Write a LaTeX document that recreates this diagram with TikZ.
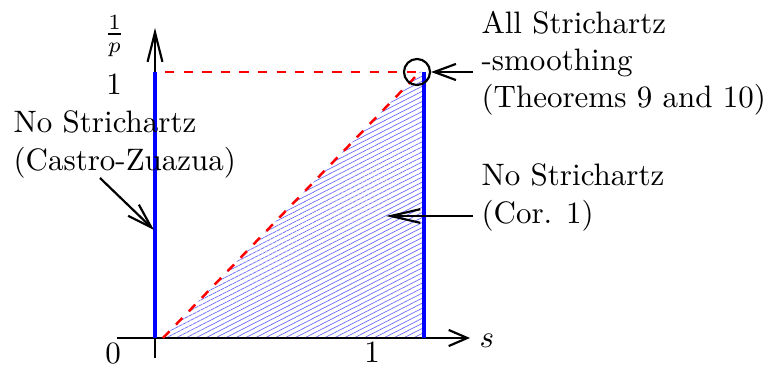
\documentclass[tikz,border=0pt]{standalone}
\usetikzlibrary{arrows.meta,patterns.meta}
\begin{document}
\begin{tikzpicture}[x=0.3226pt,y=-0.3226pt,
  axis/.style={line width=0.7pt},
  pointer/.style={line width=0.7pt},
  redline/.style={red,dashed,line width=0.8pt},
  lbl/.style={inner sep=0pt,align=left,anchor=north west}]
\useasboundingbox (0,0) rectangle (768,367);
% hatched region
\fill[pattern={Lines[angle=27,distance=1.45pt,line width=0.22pt]},pattern color=blue!60]
  (163,338) -- (424,338) -- (424,72) -- (420,72) -- cycle;
% axes
\coordinate (xs) at (117,338);
\coordinate (xe) at (470,338);
\coordinate (ys) at (155,358);
\coordinate (ye) at (155,28);
\draw[axis,-{Straight Barb[length=6pt,width=5.2pt]}] (xs) -- (xe);
\draw[axis,-{Straight Barb[length=9.5pt,width=4.8pt]}] (ys) -- (ye);
% blue lines
\coordinate (O) at (155,338);
\coordinate (L1) at (155,72);
\coordinate (R0) at (424,338);
\coordinate (R1) at (424,72);
\draw[blue,line width=1.2pt] (O) -- (L1);
\draw[blue,line width=1.5pt] (R0) -- (R1);
% red dashed
\coordinate (D0) at (163,338);
\coordinate (C) at (420,72);
\coordinate (H0) at (165,72);
\draw[redline] (D0) -- (C);
\draw[redline] (H0) -- (C);
% circle
\node[draw,circle,line width=0.7pt,inner sep=0pt,minimum size=8.4pt] (circ) at (417,72) {};
% labels
\node[inner sep=0pt] (py) at (114.5,36) {$\frac{1}{p}$};
\node[inner sep=0pt] (one) at (114,85) {$1$};
\node[inner sep=0pt] (zero) at (113,354) {$0$};
\node[inner sep=0pt] (onex) at (372,353) {$1$};
\node[inner sep=0pt] (s) at (487,341) {$s$};
% texts
\node[lbl] (castro) at (13,110.5) {No Strichartz\\(Castro-Zuazua)};
\node[lbl] (all) at (481,10.5) {All Strichartz\\-smoothing\\(Theorems 9 and 10)};
\node[lbl] (cor) at (481,163.5) {No Strichartz\\(Cor. 1)};
% pointers
\coordinate (pc0) at (100,178);
\coordinate (pc1) at (154,230);
\draw[pointer,-{Straight Barb[length=8pt,width=5pt]}] (pc0) -- (pc1);
\coordinate (pa0) at (473,72);
\draw[pointer,-{Straight Barb[length=7pt,width=5.2pt]}] (pa0) -- (circ.east);
\coordinate (pk0) at (473,216);
\coordinate (pk1) at (386,216);
\draw[pointer,-{Straight Barb[length=9.5pt,width=4.4pt]}] (pk0) -- (pk1);
\end{tikzpicture}
\end{document}
